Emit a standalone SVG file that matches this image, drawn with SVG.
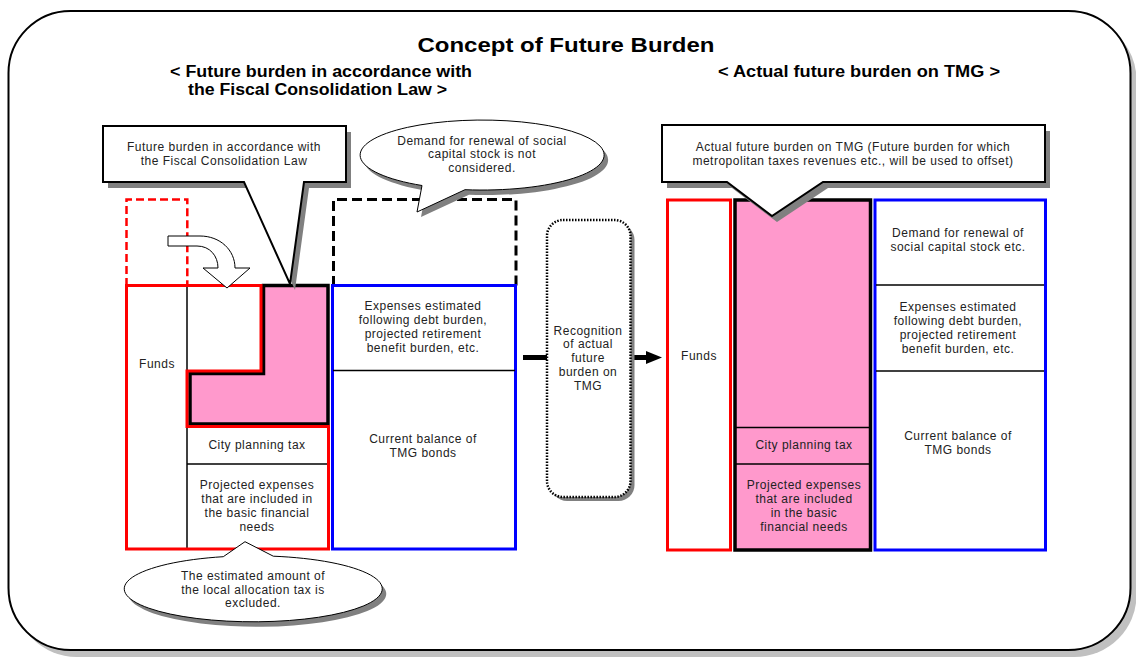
<svg xmlns="http://www.w3.org/2000/svg" width="1136" height="657" viewBox="0 0 1136 657">
<style>
text{font-family:"Liberation Sans",Arial,sans-serif;fill:#222;}
.s{font-size:12px;text-anchor:middle;letter-spacing:0.5px;}
.h{font-weight:bold;fill:#000;text-anchor:middle;}
.red{fill:none;stroke:#ff0000;stroke-width:3;}
.blue{fill:#fff;stroke:#0000ff;stroke-width:3;}
.thin{stroke:#000;stroke-width:1.5;fill:none;}
.pink{fill:#ff99cc;stroke:#000;stroke-width:3.5;}
.shadow{fill:#808080;}
.callout{fill:#fff;stroke:#000;stroke-width:2;}
.bubble{fill:#fff;stroke:#000;stroke-width:1;}
</style>
<g id="frame">
<rect x="14.5" y="18" width="1122" height="639" rx="62" ry="62" fill="#c0c0c0"/>
<rect x="8.5" y="11" width="1122" height="639" rx="62" ry="62" fill="#fff" stroke="#000" stroke-width="2"/>
</g>
<g id="titles">
<text class="h" x="566" y="52" font-size="21" textLength="297" lengthAdjust="spacingAndGlyphs">Concept of Future Burden</text>
<text class="h" x="321" y="77" font-size="16" textLength="302" lengthAdjust="spacingAndGlyphs">&lt; Future burden in accordance with</text>
<text class="h" x="317.5" y="95" font-size="16" textLength="259" lengthAdjust="spacingAndGlyphs">the Fiscal Consolidation Law &gt;</text>
<text class="h" x="859" y="77" font-size="16" textLength="282" lengthAdjust="spacingAndGlyphs">&lt; Actual future burden on TMG &gt;</text>
</g>
<g id="left-dashed">
<path d="M126.5,286 V199.5 H187.3 V286" fill="none" stroke="#ff0000" stroke-width="2.5" stroke-dasharray="8,4"/>
<path d="M333.5,286 V199.5 H516 V286" fill="none" stroke="#000" stroke-width="3" stroke-dasharray="10,5"/>
</g>
<g id="left-funds">
<path class="pink" d="M263.5,285.5 H328 V424 H190 V373.5 H263.5 Z"/>
<line class="thin" x1="187" y1="286" x2="187" y2="549"/>
<line class="thin" x1="187" y1="464" x2="328" y2="464"/>
<path class="red" d="M126.5,285.5 H261 V371 H187 V426.5 H328.5 V549 H126.5 Z"/>
<text class="s" x="157" y="368">Funds</text>
<text class="s" x="257" y="449">City planning tax</text>
<text class="s" x="257" y="489">Projected expenses</text>
<text class="s" x="257" y="503">that are included in</text>
<text class="s" x="257" y="517">the basic financial</text>
<text class="s" x="257" y="531">needs</text>
</g>
<g id="left-bonds">
<rect class="blue" x="332.5" y="285.5" width="183" height="263.5"/>
<line class="thin" x1="333" y1="370.5" x2="515" y2="370.5"/>
<text class="s" x="423" y="310">Expenses estimated</text>
<text class="s" x="423" y="324">following debt burden,</text>
<text class="s" x="423" y="338">projected retirement</text>
<text class="s" x="423" y="352">benefit burden, etc.</text>
<text class="s" x="423" y="443">Current balance of</text>
<text class="s" x="423" y="457">TMG bonds</text>
</g>
<g id="connectors">
<line x1="523" y1="357.5" x2="648" y2="357.5" stroke="#000" stroke-width="5"/>
<polygon points="646,351 662,357.5 646,364" fill="#000"/>
<path d="M168,236 L200,236 C220,236 235,250 235,268 L250,268 L227,288 L203,268 L218,268 C218,256 210,246 197,246 L168,246 Z" fill="#fff" stroke="#000" stroke-width="1"/>
</g>
<g id="recognition">
<rect x="551" y="224" width="83.5" height="277" rx="16" ry="16" fill="#808080"/>
<rect x="547" y="220" width="83.5" height="277" rx="16" ry="16" fill="#fff" stroke="#000" stroke-width="2.5" stroke-dasharray="1.5,1.5"/>
<text class="s" x="588" y="335">Recognition</text>
<text class="s" x="588" y="348">of actual</text>
<text class="s" x="588" y="362">future</text>
<text class="s" x="588" y="376">burden on</text>
<text class="s" x="588" y="390">TMG</text>
</g>
<g id="right-funds">
<rect class="red" x="667.5" y="200" width="63" height="350" fill="#fff"/>
<rect class="pink" x="735" y="200" width="135.5" height="350"/>
<line class="thin" x1="736" y1="427.5" x2="869" y2="427.5"/>
<line class="thin" x1="736" y1="464" x2="869" y2="464"/>
<text class="s" x="699" y="360">Funds</text>
<text class="s" x="804" y="449">City planning tax</text>
<text class="s" x="804" y="489">Projected expenses</text>
<text class="s" x="804" y="503">that are included</text>
<text class="s" x="804" y="517">in the basic</text>
<text class="s" x="804" y="531">financial needs</text>
</g>
<g id="right-bonds">
<rect class="blue" x="875" y="200" width="170.5" height="350"/>
<line class="thin" x1="876" y1="285" x2="1044" y2="285"/>
<line class="thin" x1="876" y1="371" x2="1044" y2="371"/>
<text class="s" x="958" y="237">Demand for renewal of</text>
<text class="s" x="958" y="251">social capital stock etc.</text>
<text class="s" x="958" y="311">Expenses estimated</text>
<text class="s" x="958" y="325">following debt burden,</text>
<text class="s" x="958" y="339">projected retirement</text>
<text class="s" x="958" y="353">benefit burden, etc.</text>
<text class="s" x="958" y="440">Current balance of</text>
<text class="s" x="958" y="454">TMG bonds</text>
</g>
<g id="callout-left">
<path class="shadow" transform="translate(5,6)" d="M103,126 H346 V182 H304 L290,284 L244,182 H103 Z"/>
<path class="callout" d="M103,126 H346 V182 H304 L290,284 L244,182 H103 Z"/>
<text class="s" x="224" y="151">Future burden in accordance with</text>
<text class="s" x="224" y="165">the Fiscal Consolidation Law</text>
</g>
<g id="bubble-top">
<path class="shadow" transform="translate(4,5)" d="M422,185.5 L417,212 L465,189.7 A122,35 0 1 0 422,185.5 Z"/>
<path class="bubble" d="M422,185.5 L417,212 L465,189.7 A122,35 0 1 0 422,185.5 Z"/>
<text class="s" x="482" y="145">Demand for renewal of social</text>
<text class="s" x="482" y="158">capital stock is not</text>
<text class="s" x="482" y="172">considered.</text>
</g>
<g id="callout-right">
<path class="shadow" transform="translate(5,6)" d="M662,125 H1045 V182 H823 L772,216 L727,182 H662 Z"/>
<path class="callout" d="M662,125 H1045 V182 H823 L772,216 L727,182 H662 Z"/>
<text class="s" x="853" y="151">Actual future burden on TMG (Future burden for which</text>
<text class="s" x="853" y="165">metropolitan taxes revenues etc., will be used to offset)</text>
</g>
<g id="bubble-bottom">
<path class="shadow" transform="translate(4,5)" d="M223.3,556.7 L245,541.7 L273.3,556.2 A129,33 0 1 1 223.3,556.7 Z"/>
<path class="bubble" d="M223.3,556.7 L245,541.7 L273.3,556.2 A129,33 0 1 1 223.3,556.7 Z"/>
<text class="s" x="253" y="580">The estimated amount of</text>
<text class="s" x="253" y="594">the local allocation tax is</text>
<text class="s" x="253" y="607">excluded.</text>
</g>
</svg>
